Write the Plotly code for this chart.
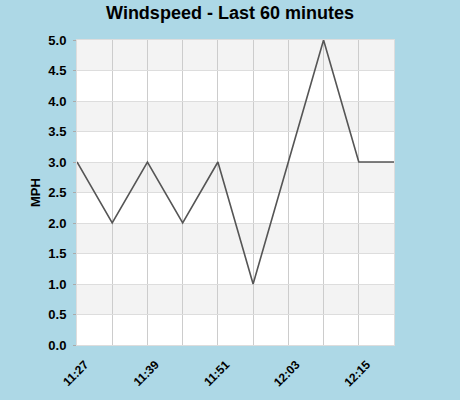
import plotly.graph_objects as go

# readings every 6 minutes over the last hour
times = ["11:27", "11:33", "11:39", "11:45", "11:51",
         "11:57", "12:03", "12:09", "12:15", "12:21"]
mph = [3, 2, 3, 2, 3, 1, 3, 5, 3, 3]

y_ticks = [0.0, 0.5, 1.0, 1.5, 2.0, 2.5, 3.0, 3.5, 4.0, 4.5, 5.0]
x_labels = ["11:27", "11:39", "11:51", "12:03", "12:15"]

day = "2024-01-01 "
x = [day + t for t in times]

fig = go.Figure()
fig.add_trace(go.Scatter(x=x, y=mph, mode="lines",
                         line=dict(color="#555555", width=1.6),
                         hoverinfo="x+y", showlegend=False))

# alternating grey / white bands between the y gridlines
for i in range(len(y_ticks) - 1):
    if (len(y_ticks) - 2 - i) % 2 == 0:
        fig.add_shape(type="rect", xref="paper", yref="y", layer="below",
                      x0=0, x1=1, y0=y_ticks[i], y1=y_ticks[i + 1],
                      fillcolor="#f3f3f3", line_width=0)

font = "Liberation Sans, Arial, sans-serif"
fig.update_layout(
    width=460, height=400,
    margin=dict(l=77, r=66, t=40, b=55, autoexpand=False),
    paper_bgcolor="#add8e6",
    plot_bgcolor="#ffffff",
    font=dict(family=font, color="#000000"),
    title=dict(text="<b>Windspeed - Last 60 minutes</b>", x=0.5, xanchor="center",
               y=0.985, yanchor="top", font=dict(size=18, family=font)),
)
fig.update_xaxes(
    type="date", range=[x[0], x[-1]],
    tickvals=[day + t for t in x_labels],
    ticktext=["<b>%s</b>" % t for t in x_labels],
    tickangle=-45, tickfont=dict(size=12),
    ticklabelshift=8, ticklabelstandoff=7,
    showgrid=True, gridcolor="#cccccc", gridwidth=1,
    minor=dict(tickvals=x, showgrid=True, gridcolor="#cccccc", gridwidth=1),
    showline=True, linecolor="#dddddd", mirror=True,
    zeroline=False, fixedrange=True, automargin=False,
)
fig.update_yaxes(
    range=[0, 5], tickvals=y_ticks,
    ticktext=["<b>%.1f</b>" % v for v in y_ticks],
    tickfont=dict(size=13), ticklabelstandoff=4,
    ticks="outside", ticklen=3, tickcolor="#aaaaaa",
    title=dict(text="<b>MPH</b>", font=dict(size=13), standoff=4),
    showgrid=True, gridcolor="#dddddd", gridwidth=1,
    showline=True, linecolor="#dddddd", mirror=True,
    zeroline=False, fixedrange=True, automargin=False,
)

# page has a default body margin; drop it so the chart sits at 0,0
fig.write_html("out.html", config={"displayModeBar": False},
               post_script="document.body.style.margin='0';")
